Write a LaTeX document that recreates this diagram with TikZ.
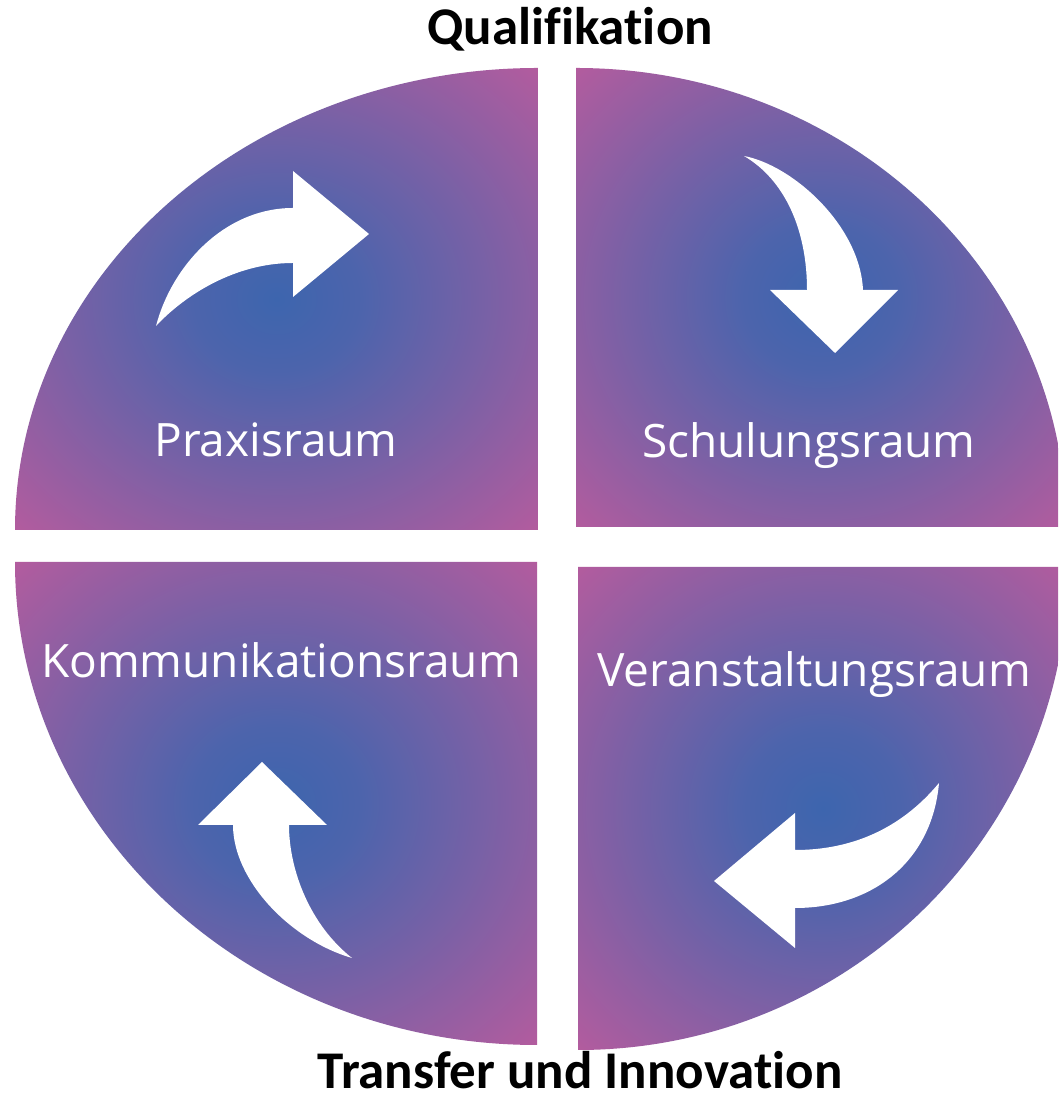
\documentclass[tikz,border=0pt]{standalone}
\usepackage{fontspec}
\setmainfont{Open Sans}
\newfontfamily\titlefont[Ligatures=NoCommon]{Carlito}
\pgfdeclareradialshading{quadshade}{\pgfpoint{0bp}{0bp}}{%
  rgb(0bp)=(0.239,0.396,0.682);
  rgb(8bp)=(0.300,0.392,0.675);
  rgb(20bp)=(0.470,0.380,0.650);
  rgb(35.36bp)=(0.700,0.360,0.620);
  rgb(50bp)=(0.700,0.360,0.620)}
\tikzset{
  quad/.style={shading=quadshade},
  warrow/.style={fill=white, draw=none},
  lbl/.style={anchor=base, inner sep=0pt, text=white, font=\fontsize{46}{54}\selectfont},
  ttl/.style={anchor=base, inner sep=0pt, text=black, font=\titlefont\bfseries\fontsize{53}{62}\selectfont}
}
\begin{document}
\begin{tikzpicture}[x=1pt,y=1pt]
\useasboundingbox (0,0) rectangle (1058,1102);
\clip (0,0) rectangle (1058,1102);
\fill[white] (0,0) rectangle (1058,1102);
% quadrants
\shade[quad] (538,572) -- (15,572) arc[start angle=180, end angle=90, x radius=523, y radius=462] -- cycle;
\shade[quad] (576,575) -- (576,1034) arc[start angle=90, end angle=0, x radius=490, y radius=459] -- cycle;
\shade[quad] (537,540) -- (15,540) arc[start angle=180, end angle=270, x radius=522, y radius=483] -- cycle;
\shade[quad] (578,535) -- (578,52) arc[start angle=270, end angle=360, x radius=490, y radius=483] -- cycle;
% arrows
\fill[warrow] (156,776) .. controls (172,837) and (225,894) .. (293,894) -- (293,931) -- (369,868) -- (293,805) -- (293,839) .. controls (235,839) and (185,807) .. (156,776) -- cycle;
\fill[warrow] (744,946) .. controls (792,937) and (860,877) .. (863,812) -- (898,812) -- (835,749) -- (770,812) -- (807,812) .. controls (807,872) and (785,922) .. (744,946) -- cycle;
\fill[warrow] (939,319) .. controls (932,240) and (872,194) .. (795,194) -- (795,154) -- (714,221) -- (795,289) -- (795,252) .. controls (850,252) and (900,272) .. (939,319) -- cycle;
\fill[warrow] (352,144) .. controls (290,162) and (233,222) .. (233,277) -- (198,277) -- (262,340) -- (327,277) -- (289,277) .. controls (289,232) and (310,177) .. (352,144) -- cycle;
% labels
\node[lbl] (praxis) at (276,645) {Praxisraum};
\node[lbl] (schulung) at (809,644) {Schulungsraum};
\node[lbl] (komm) at (281,424) {Kommunikationsraum};
\node[lbl] (veranst) at (814,415) {Veranstaltungsraum};
\node[ttl] (quali) at (570,1057) {Qualifikation};
\node[ttl] (transfer) at (580,13) {Transfer und Innovation};
\end{tikzpicture}
\end{document}
